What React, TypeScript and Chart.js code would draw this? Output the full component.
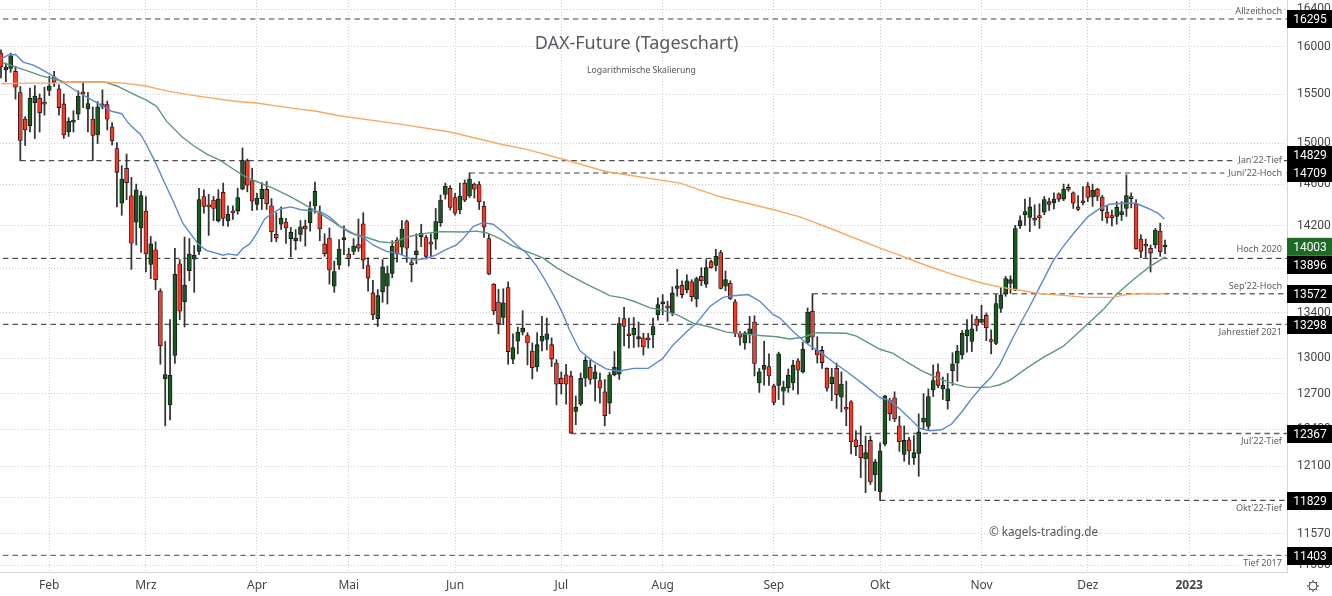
import React, { useEffect, useRef } from "react";
import { Chart, registerables } from "chart.js";

Chart.register(...registerables);

const open = [15930,15752,15769,15738,15518,15245,15180,15412,15458,15402,15538,15680,15556,15400,15115,15215,15295,15525,15348,15245,15085,15400,15393,15167,14950,14415,14755,14486,14235,14180,14340,13840,13975,13597,12825,12605,13027,13845,13500,13782,13888,13960,14480,14400,14445,14250,14520,14250,14327,14340,14550,14830,14635,14405,14460,14550,14390,14120,14215,14235,14080,14060,14120,14195,14230,14390,14325,14030,14085,13640,13833,
14070,13935,13960,14025,14220,13830,13580,13350,13590,13640,13758,14065,14000,14240,13842,13930,14095,14090,14032,14075,14230,14500,14560,14470,14350,14610,14485,14600,14595,14385,14080,13660,13497,13360,13628,12995,13150,13230,13200,13065,12930,13150,13165,13120,12960,12830,12860,12850,12550,12610,12830,12925,12825,12810,12715,12620,12860,12865,13350,13202,
13205,13170,13180,13167,13205,13385,13480,13447,13400,13620,13650,13610,13680,13525,13730,13660,13865,13830,13950,13640,13670,13500,13220,13135,13205,13320,12790,12905,12930,12765,12770,12720,12750,12790,12980,12885,13140,13415,13070,13070,12915,12785,12915,12670,12572,12630,12315,12270,12160,12310,12030,11895,12280,12640,12665,12430,12195,12315,12170,12205,
12460,12425,12730,12885,12740,12640,12895,12960,13030,13200,13148,13345,13315,13380,13152,13130,13440,13570,13665,13605,14200,14305,14280,14257,14282,14330,14430,14420,14505,14455,14552,14515,14380,14422,14580,14475,14550,14475,14330,14282,14290,14305,14365,14480,14410,14075,14012,13990,14020,14150,14001];
const high = [15965,15825,15930,15790,15580,15270,15563,15590,15503,15573,15685,15738,15598,15503,15260,15330,15535,15615,15518,15370,15425,15545,15430,15210,15010,14780,14895,14665,14600,14530,14480,14100,14050,13618,13148,13340,13990,13885,14095,14080,14015,14560,14545,14500,14480,14545,14610,14390,14390,14560,14955,14845,14755,14510,14615,14625,14460,14325,14380,14270,14185,14165,14250,14255,14430,14620,14390,14125,14180,13870,14070,
14200,13990,14080,14265,14325,13900,13695,13610,13885,13825,14060,14090,14250,14255,13900,14125,14215,14110,14125,14365,14495,14610,14585,14510,14610,14640,14709,14610,14625,14430,14120,13665,13612,13618,13680,13215,13275,13420,13225,13135,13225,13370,13355,13180,12990,12885,12950,12890,12680,12875,13015,12985,12945,12875,12820,12880,13060,13360,13450,13355,
13360,13320,13220,13220,13355,13535,13565,13505,13635,13795,13690,13745,13700,13725,13810,13885,13880,13980,13970,13780,13690,13520,13235,13235,13370,13375,12915,13150,13040,12780,13055,12805,12910,12985,13000,13140,13445,13572,13190,13105,12920,12915,12960,12885,12805,12640,12390,12430,12345,12345,12155,12290,12685,12660,12715,12510,12430,12335,12350,12530,
12700,12740,12945,12955,12840,12870,13050,13115,13245,13340,13385,13370,13470,13400,13250,13565,13630,13730,13735,14205,14295,14455,14470,14400,14410,14480,14465,14515,14515,14600,14600,14525,14490,14575,14615,14600,14560,14490,14395,14350,14430,14430,14690,14515,14450,14115,14075,14020,14175,14225,14065];
const low = [15668,15630,15727,15450,14829,14980,15115,15050,15115,15285,15486,15580,15285,15050,15070,15115,15240,15363,15115,14829,15000,15350,15135,14985,14380,14300,14450,13795,14020,13950,13770,13710,13610,12950,12430,12480,12958,13340,13275,13690,13585,13930,14320,14110,14250,14235,14200,14195,14260,14310,14545,14525,14345,14350,14355,14355,14050,14050,14165,14035,13910,13975,14055,14010,14150,14320,14060,13915,13660,13585,13795,
13930,13825,13930,13960,13800,13595,13340,13280,13495,13480,13718,13860,13930,13860,13680,13845,14005,13890,13915,13980,14195,14455,14350,14300,14315,14430,14470,14465,14355,14090,13745,13385,13215,13295,12950,12955,13040,13205,12945,12825,12890,13065,13075,12930,12605,12695,12610,12367,12440,12600,12760,12780,12635,12620,12430,12530,12850,12820,13110,13090,
13095,13100,13030,13090,13095,13335,13385,13325,13375,13550,13535,13580,13505,13455,13645,13630,13805,13780,13615,13600,13520,13190,13115,13080,13135,12850,12710,12770,12770,12605,12650,12605,12710,12730,12695,12875,13130,13075,12960,12915,12720,12640,12575,12545,12430,12200,12185,12010,11890,11955,11905,11829,12265,12475,12465,12220,12140,12115,12115,12020,
12400,12390,12675,12750,12650,12570,12770,12805,12995,13055,13060,13240,13310,13155,13040,13120,13405,13550,13575,13600,14175,14205,14145,14205,14175,14305,14345,14360,14430,14440,14530,14365,14345,14400,14430,14385,14440,14250,14225,14200,14215,14250,14290,14370,13980,13900,13905,13770,13990,13915,13940];
const close = [15783,15783,15902,15573,15030,15135,15458,15482,15310,15398,15585,15623,15363,15085,15225,15230,15480,15503,15403,15080,15370,15375,15245,15025,14715,14650,14615,14036,14545,14490,13936,14030,13700,13110,12861,12855,13750,13415,13650,13936,13925,14450,14385,14380,14365,14458,14270,14310,14323,14470,14830,14590,14435,14465,14550,14410,14145,14085,14270,14180,14140,14085,14190,14170,14365,14530,14170,13940,13790,13775,13982,
14090,13895,14010,13990,13880,13715,13385,13555,13818,13755,14010,13940,14170,13990,13838,13965,14130,13915,14028,14240,14445,14580,14375,14320,14485,14445,14650,14550,14430,14190,13750,13418,13305,13490,13060,13095,13230,13265,13135,12920,13120,13195,13215,12995,12780,12785,12780,12370,12585,12830,12985,12820,12885,12745,12515,12860,12925,13305,13280,13198,
13265,13190,13100,13163,13280,13475,13500,13443,13580,13645,13565,13690,13545,13710,13690,13810,13810,13915,13620,13700,13530,13220,13185,13225,13260,12958,12885,12940,12850,12625,13040,12755,12855,12940,12900,13080,13405,13185,13030,12965,12745,12840,12690,12780,12568,12300,12260,12170,12210,11975,12135,12225,12680,12530,12490,12300,12310,12225,12210,12380,
12495,12675,12810,12770,12770,12740,12955,13065,13220,13250,13260,13290,13345,13270,13148,13485,13560,13710,13700,14175,14250,14335,14380,14253,14278,14450,14405,14455,14455,14550,14548,14415,14355,14418,14470,14540,14480,14345,14275,14278,14375,14335,14490,14460,13985,13960,14008,13945,14160,13955,14003];

const blueX = [0,1.5,3,4.6,6.7,8.8,11.2,13.6,16,18.4,21.2,22.9,25,26.1,27,28.8,30,31.9,33.6,35.7,37.7,39,40.8,42.5,46,47,48.9,50,51.5,52.9,54.6,55.7,57.7,60,61.9,64.6,66.3,68,70.2,72.2,75,77,79.8,82,84,85.3,88,90,92,94.3,95.7,97.8,99.8,101.9,104,106.7,108.8,110.9,113,115,116.4,117.8,119.8,122.6,125.3,127.8,131,134,137,139.2,142,144,146.8,149.5,151.6,154.7,157.1,159.9,161.3,164,166.8,169.5,172.3,175,178.5,182,184,186.1,188.2,190.2,192.3,194.7,196.8,198.9,201,203,205,206.8,208.9,210.9,213,215,217.8,219.9,222,225,227.5,229.5,232.3,235,237.8,239.5,240.9];
const blueY = [15867,15910,15915,15835,15803,15748,15675,15598,15520,15452,15375,15325,15300,15222,15172,15095,15000,14820,14640,14430,14220,14140,14030,13970,13925,13937,13925,13985,14030,14125,14265,14305,14360,14380,14355,14340,14330,14285,14195,14136,14090,14020,13960,13945,13910,13880,13895,13925,13975,14020,14080,14195,14230,14215,14140,14020,13945,13825,13670,13510,13385,13240,13070,12975,12910,12890,12915,12915,13000,13120,13235,13310,13460,13540,13555,13565,13505,13385,13355,13235,13130,13060,12970,12890,12780,12665,12640,12570,12490,12410,12390,12398,12445,12545,12660,12755,12840,12950,13130,13295,13460,13630,13870,14005,14125,14285,14365,14405,14415,14415,14360,14320,14265];
const greenX = [0.5,3,5.3,8.4,11.2,13.2,16.3,21.2,24,27.4,30.1,32.2,34.3,37.4,39.8,42.6,45.3,48,50.1,52.9,56.3,59.8,62.6,66,70,73,75.7,78.4,81.2,84,87.4,90.9,95.7,98.4,100.5,103.3,106,108.8,112.2,115,117.8,121.2,124,126,128.8,131,134.4,136.4,139.9,143.3,146.8,150.2,153.7,157.1,160.6,163.3,166.1,168.8,175,177.1,182,184.7,187.5,190.2,191.6,194.4,197.1,199.9,202.7,205,206.8,208.9,212.3,215.8,219.9,224.7,228.2,230.9,234.4,237.8,241.1];
const greenY = [15825,15785,15745,15690,15655,15625,15627,15630,15585,15500,15440,15375,15222,15070,14980,14895,14835,14750,14685,14625,14560,14480,14410,14320,14200,14127,14090,14050,14040,14095,14127,14145,14142,14150,14135,14080,14010,13960,13900,13810,13740,13660,13600,13555,13535,13505,13445,13430,13385,13310,13275,13230,13215,13200,13190,13170,13185,13225,13220,13195,13080,13045,12970,12905,12875,12825,12785,12755,12752,12757,12775,12815,12915,13010,13105,13290,13430,13565,13700,13820,13910];
const orangeX = [0,5,10.8,17,21,25.3,30,34.3,39,48,52.9,59.8,65.3,70,82.6,93,103.3,108.8,116.4,125.4,140.6,148.9,160.2,165.4,171.6,182,186,188,191.6,196.5,203,207.2,211.6,215,219.2,224.7,230.2,233,237,241];
const orangeY = [15608,15615,15615,15627,15627,15615,15585,15535,15493,15430,15410,15360,15325,15280,15195,15115,14995,14941,14843,14720,14610,14477,14350,14285,14177,13990,13925,13890,13830,13755,13670,13630,13600,13575,13560,13540,13540,13565,13575,13572];

const monthTicks = [10,30,53,72,94,116,137,160,182,203,225,246];
const monthLabels = ["Feb","Mrz","Apr","Mai","Jun","Jul","Aug","Sep","Okt","Nov","Dez","2023"];
const priceTicks = [16400,16000,15500,15000,14600,14200,13800,13400,13000,12700,12400,12100,11850,11570,11330];

const levelValues = [16295,14829,14709,13896,13572,13298,12367,11829,11403];
const levelStart = [0.4,4,97,0.4,168,0.4,118,182,0.4];
const levelColors = ["#808080","#222222","#808080","#222222","#707070","#505050","#606060","#505050","#707070"];
const levelWidths = [1.5,1,1.5,1,1.4,1.2,1.3,1.2,1.3];
const levelNames = ["Allzeithoch","Jan'22-Tief","Juni'22-Hoch","Hoch 2020","Sep'22-Hoch","Jahrestief 2021","Jul'22-Tief","Okt'22-Tief","Tief 2017"];
const levelNameY = [11,160,172.5,249,286,332,441,508,563];
const levelBoxY = [19,155,173,265,294,325,434,501,556];
const lastPrice = 14003;

const FONT = '"Noto Sans", sans-serif';
const NUM_FONT = 'Roboto, sans-serif';

function series(xs: number[], ys: number[]) {
  return xs.map((x, i) => ({ x, y: ys[i] }));
}

const overlay = {
  id: "overlay",
  afterDraw(chart: any) {
    const { ctx } = chart;
    const y = chart.scales.y;
    ctx.save();
    ctx.textBaseline = "middle";
    ctx.textAlign = "center";
    ctx.fillStyle = "#565b62";
    ctx.font = `18px ${FONT}`;
    ctx.fillText("DAX-Future (Tageschart)", 636.5, 44);
    ctx.font = `8.7px ${FONT}`;
    ctx.fillStyle = "#555";
    ctx.fillText("Logarithmische Skalierung", 641.5, 71);
    ctx.font = `11.75px ${FONT}`;
    ctx.fillStyle = "#555";
    ctx.fillText("© kagels-trading.de", 1043.5, 532.5);
    ctx.textAlign = "right";
    ctx.font = `9.1px ${FONT}`;
    levelNames.forEach((n, i) => {
      const w = ctx.measureText(n).width;
      ctx.fillStyle = "#fff";
      ctx.fillRect(1282 - w - 4, levelNameY[i] - 6, w + 5, 12);
      ctx.fillStyle = "#5c5c5c";
      ctx.fillText(n, 1282, levelNameY[i] + 0.5);
    });
    ctx.textAlign = "center";
    ctx.font = `12px ${NUM_FONT}`;
    levelValues.forEach((v, i) => {
      const c = levelBoxY[i];
      ctx.fillStyle = "#000";
      ctx.fillRect(1287, c - 9, 45, 18);
      ctx.fillStyle = "#fff";
      ctx.fillText(String(v), 1310, c + 1);
    });
    const py = y.getPixelForValue(lastPrice);
    ctx.fillStyle = "#1f6a25";
    ctx.fillRect(1287, py - 9, 45, 18);
    ctx.fillStyle = "#fff";
    ctx.fillText(String(lastPrice), 1310, py + 1);
    ctx.strokeStyle = "#444";
    ctx.lineWidth = 1;
    ctx.beginPath();
    ctx.arc(1313, 586, 4, 0, Math.PI * 2);
    ctx.stroke();
    for (let a = 0; a < 8; a++) {
      const t = (a * Math.PI) / 4;
      ctx.beginPath();
      ctx.moveTo(1313 + Math.cos(t) * 4, 586 + Math.sin(t) * 4);
      ctx.lineTo(1313 + Math.cos(t) * 6, 586 + Math.sin(t) * 6);
      ctx.stroke();
    }
    ctx.restore();
  },
};

export default function App() {
  const ref = useRef<HTMLCanvasElement>(null);
  useEffect(() => {
    document.body.style.margin = "0";
    const indices = open.map((_, i) => i);
    const lineBase = { type: "line", pointRadius: 0, tension: 0, fill: false };
    const chart = new Chart(ref.current as any, {
      type: "bar",
      data: {
        datasets: [
          ...levelValues.map((v, i) => ({
            ...lineBase,
            data: [{ x: levelStart[i], y: v }, { x: 267, y: v }],
            borderColor: levelColors[i],
            borderWidth: levelWidths[i],
            borderDash: [5.5, 4],
            order: 5,
          })),
          { ...lineBase, data: series(orangeX, orangeY), borderColor: "#f9a862", borderWidth: 1.4, order: 1 },
          { ...lineBase, data: series(greenX, greenY), borderColor: "#5f9583", borderWidth: 1.4, order: 1 },
          { ...lineBase, data: series(blueX, blueY), borderColor: "#5b87d3", borderWidth: 1.4, order: 1 },
          {
            type: "bar",
            data: indices.map((i) => ({ x: i, y: [open[i], close[i]] })),
            backgroundColor: indices.map((i) => (close[i] >= open[i] ? "#17591f" : "#f5392a")),
            borderColor: "#111",
            borderWidth: 0.8,
            borderSkipped: false,
            barThickness: 4,
            minBarLength: 2,
            grouped: false,
            order: 2,
          },
          {
            type: "bar",
            data: indices.map((i) => ({ x: i, y: [low[i], high[i]] })),
            backgroundColor: "#333",
            borderWidth: 0,
            barThickness: 1.1,
            grouped: false,
            order: 3,
          },
        ] as any,
      },
      options: {
        animation: false,
        responsive: false,
        layout: { padding: 0 },
        plugins: { legend: { display: false }, tooltip: { enabled: false }, title: { display: false } },
        scales: {
          x: {
            type: "linear",
            offset: false,
            min: -0.207,
            max: 266.25,
            afterBuildTicks: (s: any) => {
              s.ticks = monthTicks.map((value) => ({ value }));
            },
            afterFit: (s: any) => {
              s.height = 24;
              s.paddingLeft = 0;
              s.paddingRight = 0;
            },
            grid: { offset: false, color: "#cfcfcf", drawTicks: false, tickLength: 0 },
            border: { display: true, color: "#d3d6e0", dash: [1, 2] },
            ticks: {
              autoSkip: false,
              maxRotation: 0,
              padding: 6,
              color: "#444",
              font: (c: any) => ({
                family: FONT,
                size: 12,
                weight: c.tick && c.tick.value === 246 ? "bold" : "normal",
              }),
              callback: (v: any) => monthLabels[monthTicks.indexOf(v)],
            },
          },
          y: {
            type: "logarithmic",
            position: "right",
            min: 11278,
            max: 16503,
            afterBuildTicks: (s: any) => {
              s.ticks = priceTicks.map((value) => ({ value }));
            },
            afterFit: (s: any) => {
              s.width = 45;
              s.paddingTop = 0;
              s.paddingBottom = 0;
            },
            grid: { color: "#cfcfcf", drawTicks: false, tickLength: 0 },
            border: { display: true, color: "#d3d6e0", dash: [1, 2] },
            ticks: {
              autoSkip: false,
              padding: 10,
              color: "#444",
              font: { family: NUM_FONT, size: 12 },
              callback: (v: any) => String(v),
            },
          },
        },
      } as any,
      plugins: [overlay],
    } as any);
    return () => chart.destroy();
  }, []);
  return <canvas ref={ref} width={1332} height={596} style={{ display: "block" }} />;
}
